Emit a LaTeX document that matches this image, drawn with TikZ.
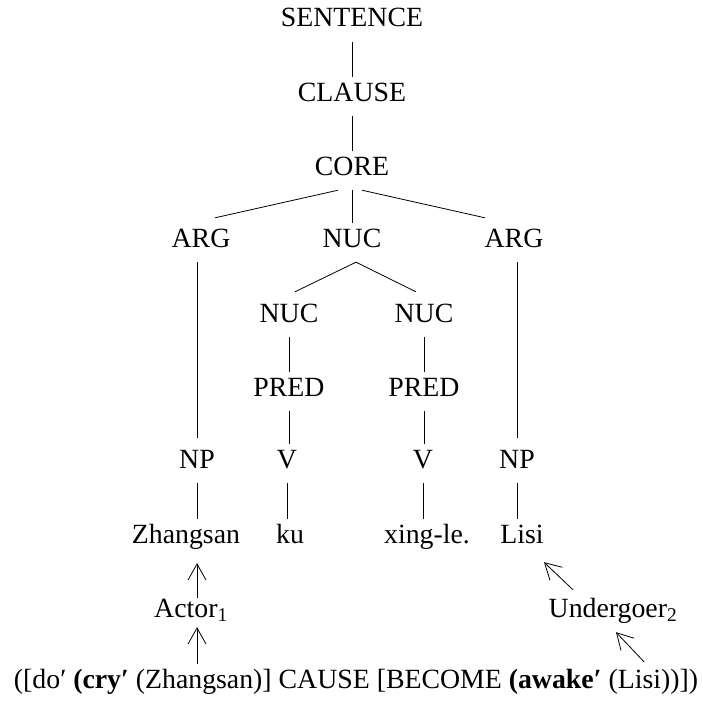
\documentclass[tikz,border=0pt]{standalone}
\usepackage{fontspec}
\setmainfont{Liberation Serif}
\usetikzlibrary{arrows.meta}

\tikzset{
  tree/.style={line width=0.8pt},
  arr/.style={line width=0.8pt, -{Straight Barb[length=16pt,width=18pt]}}
}

\begin{document}
\begin{tikzpicture}[x=1pt,y=-1pt,
    every node/.style={anchor=base, inner xsep=3pt, inner ysep=5pt,
      text height=19pt, text depth=10pt,
      font=\fontsize{27.8}{33}\selectfont}]
  \useasboundingbox (0,0) rectangle (703,701);
      \draw
        (352,27) node (sentence){SENTENCE}
        (352,101) node (clause){CLAUSE}
        (352,175) node (core){CORE}
        (201,247) node (argL){ARG}
        (352,247) node (nuc){NUC}
        (514,247) node (argR){ARG}
        (289,322) node (nucL){NUC}
        (424,322) node (nucR){NUC}
        (289,396) node (predL){PRED}
        (424,396) node (predR){PRED}
        (287,468) node (vL){V}
        (423,468) node (vR){V}
        (197,468) node (npL){NP}
        (517,468) node (npR){NP}
        (186,543) node (zhang){Zhangsan}
        (290,543) node (ku){ku}
        (427,543) node (xing){xing-le.}
        (522,543) node (lisi){Lisi}
        (191,617) node (actor){Actor\textsubscript{1}}
        (613,617) node (under){Undergoer\textsubscript{2}}
        (356,688) node (lsr){([do′ \textbf{(cry′} (Zhangsan)] CAUSE [BECOME \textbf{(awake′} (Lisi))])};
      \begin{scope}[tree]
        \draw (sentence.south) to (clause.north);
        \draw (clause.south) to (core.north);
        \draw ([xshift=-14pt]core.south) to ([xshift=14pt,yshift=5pt]argL.north);
        \draw (core.south) to (nuc.north);
        \draw ([xshift=10pt]core.south) to ([xshift=-29pt,yshift=5pt]argR.north);
        \draw ([xshift=4pt]nuc.south) to ([xshift=6pt,yshift=6pt]nucL.north);
        \draw ([xshift=4pt]nuc.south) to ([xshift=-8pt,yshift=6pt]nucR.north);
        \draw (argL.south -| npL.north) to ([yshift=6pt]npL.north);
        \draw (argR.south -| npR.north) to ([yshift=6pt]npR.north);
        \draw (nucL.south) to (predL.north);
        \draw (nucR.south) to (predR.north);
        \draw (predL.south) to (predL.south |- vL.north);
        \draw (predR.south) to (predR.south |- vR.north);
        \draw (npL.south) to (npL.south |- zhang.north);
        \draw (vL.south) to (vL.south |- ku.north);
        \draw (vR.south) to (vR.south |- xing.north);
        \draw (npR.south) to (npR.south |- lisi.north);
      \end{scope}
      \begin{scope}[arr]
        \draw ([xshift=6pt,yshift=-5pt]actor.north) to ([xshift=11pt,yshift=-5pt]zhang.south);
        \draw ([xshift=-159pt]lsr.north) to ([xshift=6pt,yshift=5pt]actor.south);
        \draw ([xshift=-40pt,yshift=3pt]under.north) to ([xshift=22pt,yshift=-4pt]lisi.south);
        \draw ([xshift=288pt,yshift=2pt]lsr.north) to ([xshift=3pt]under.south);
      \end{scope}
    \end{tikzpicture}
\end{document}
